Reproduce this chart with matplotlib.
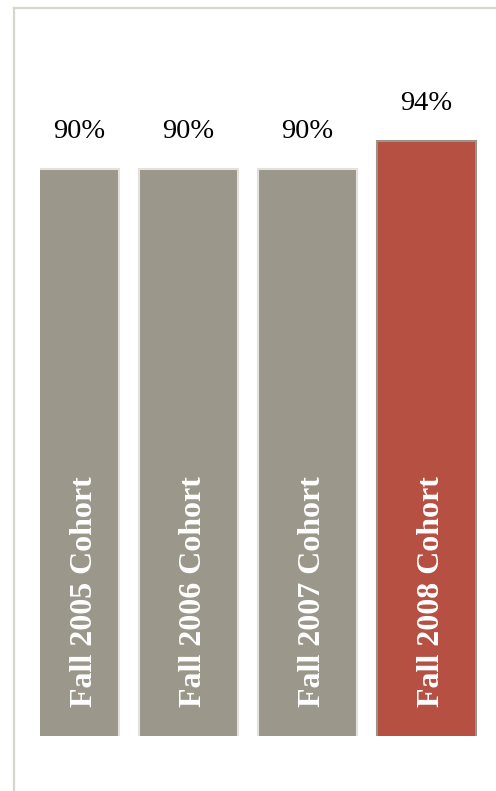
import matplotlib
matplotlib.use('Agg')
import matplotlib.pyplot as plt
from matplotlib.lines import Line2D

cohorts = ['Fall 2005 Cohort', 'Fall 2006 Cohort', 'Fall 2007 Cohort', 'Fall 2008 Cohort']
rates = [90, 90, 90, 94]

gray = '#9c978b'
red = '#b55043'
colors = [gray, gray, gray, red]
edges = ['#e2e1dc', '#e2e1dc', '#e2e1dc', '#9a9488']

W, H = 496, 791
fig = plt.figure(figsize=(W / 100, H / 100), dpi=100)

# frame lines of the chart area (left and top)
fig.add_artist(Line2D([14 / W, 14 / W], [0, 1 - 8 / H], color='#d6d5ce', lw=1.6))
fig.add_artist(Line2D([14 / W, 1], [1 - 8 / H, 1 - 8 / H], color='#d6d5ce', lw=1.6))

# axes: bottom at y=736px, top at 8px, left at 40px (clips first bar)
ax = fig.add_axes([40 / W, 1 - 736 / H, 1 - 40 / W, (736 - 8) / H])
ax.set_axis_off()

x = list(range(len(rates)))
width = 0.83
ymin = 9
ax.bar(x, rates, width, color=colors, edgecolor=edges, linewidth=1.5)
x0 = (40 - 69.5) / 119
ax.set_xlim(x0, x0 + (W - 40) / 119)
ax.set_ylim(ymin, ymin + (736 - 8) / 7)

for i, (c, v) in enumerate(zip(cohorts, rates)):
    left = max(i - width / 2, x0)
    right = i + width / 2
    xc = (left + right) / 2
    ax.annotate(f'{v}%', (xc, v), xytext=(0, 18), textcoords='offset points',
                ha='center', va='bottom', fontsize=20.5, family='Liberation Serif',
                color='black')
    ax.text(xc + 0.04, ymin + 4.2, c, rotation=90, ha='center', va='bottom',
            fontsize=23, fontweight='bold', family='Liberation Serif', color='white')

fig.savefig('out.png', dpi=100)
